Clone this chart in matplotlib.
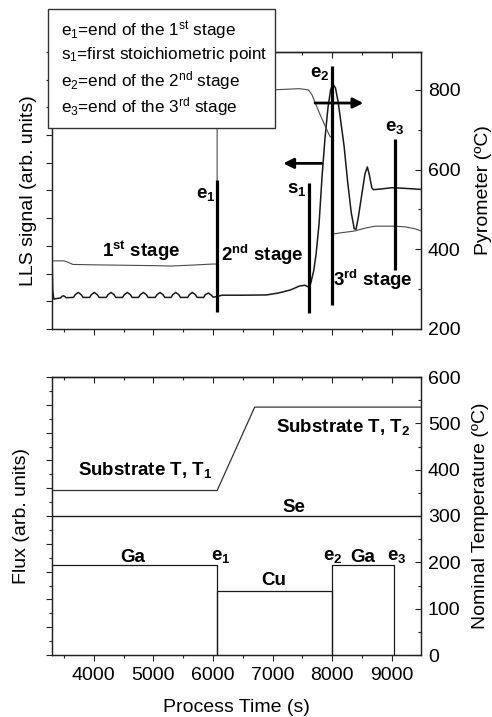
import matplotlib
matplotlib.use('Agg')
import matplotlib.pyplot as plt
from matplotlib.patches import Rectangle
from matplotlib.ticker import MultipleLocator

plt.rcParams['font.family'] = ['Liberation Sans', 'DejaVu Sans']
plt.rcParams['mathtext.fontset'] = 'custom'
plt.rcParams['mathtext.rm'] = 'Liberation Sans'
plt.rcParams['mathtext.it'] = 'Liberation Sans:italic'
plt.rcParams['mathtext.bf'] = 'Liberation Sans:bold'
plt.rcParams['mathtext.default'] = 'rm'

# ---------------- data ----------------
# LLS signal (arb. units, left axis of top panel)
lls_time = [3300, 3312, 3330, 3380, 3440, 3470, 3490, 3510, 3540,
            3660, 3690, 3741, 3790, 3820,
            3930, 3960, 4010, 4060, 4090,
            4210, 4240, 4290, 4340, 4370,
            4484, 4514, 4564, 4614, 4644,
            4752, 4782, 4832, 4882, 4912,
            5032, 5062, 5112, 5162, 5192,
            5296, 5326, 5376, 5426, 5456,
            5575, 5605, 5655, 5705, 5735,
            5843, 5873, 5923, 5973, 6003,
            6070, 6150, 6500, 6900, 7100, 7300, 7450, 7540, 7600,
            7640, 7690, 7730, 7780, 7830, 7880, 7930, 7975, 8014,
            8055, 8100, 8150, 8200, 8260, 8320, 8370, 8400, 8440,
            8500, 8550, 8590, 8625, 8665, 8690, 8800, 9000, 9200, 9490]
lls_value = [2.75, 1.40, 1.08, 1.10, 1.12, 1.18, 1.20, 1.18, 1.13,
             1.14, 1.24, 1.32, 1.24, 1.14,
             1.14, 1.24, 1.32, 1.24, 1.14,
             1.14, 1.24, 1.32, 1.24, 1.14,
             1.14, 1.24, 1.32, 1.24, 1.14,
             1.14, 1.24, 1.32, 1.24, 1.14,
             1.14, 1.24, 1.32, 1.24, 1.14,
             1.14, 1.24, 1.32, 1.24, 1.14,
             1.14, 1.24, 1.32, 1.24, 1.14,
             1.14, 1.24, 1.30, 1.22, 1.15,
             1.17, 1.22, 1.22, 1.23, 1.30, 1.41, 1.55, 1.58, 1.52,
             1.65, 2.10, 2.70, 3.80, 5.50, 6.90, 8.00, 8.65, 8.84,
             8.70, 8.20, 7.40, 6.60, 5.30, 4.20, 3.62, 3.60, 4.05,
             4.90, 5.60, 5.85, 5.55, 5.10, 5.03, 5.05, 5.10, 5.08, 5.04]

# Pyrometer (ºC, right axis of top panel)
pyro_time = [3300, 3500, 3560, 3650, 4000, 4500, 5000, 5300, 5600, 6000, 6070,
             6070, 7000, 7450, 7600, 7660, 7730, 7800, 7880, 7960, 8000,
             8000, 8130, 8380, 8550, 8720, 9040, 9240, 9400, 9490]
pyro_temp = [371, 371, 368, 362, 361, 360, 359, 358, 360, 363, 363,
             800, 800, 803, 800, 788, 762, 737, 710, 684, 679,
             438, 441, 446, 453, 458, 458, 456, 451, 446]

# stage markers (time, bottom ºC, top ºC)
marker_names = ['e1', 's1', 'e2', 'e3']
marker_time = [6070, 7611, 8000, 9054]
marker_low = [243, 240, 260, 348]
marker_high = [574, 566, 860, 677]

# bottom panel: nominal temperature (ºC)
sub_time = [3300, 6070, 6700, 9490]
sub_temp = [355, 355, 535, 535]

# bottom panel: fluxes (arb. units)
se_time = [3300, 9490]
se_flux = [5.0, 5.0]
ga1_time = [3300, 6070, 6070]
ga1_flux = [3.25, 3.25, 0.0]
cu_time = [6070, 6070, 8000, 8000]
cu_flux = [0.0, 2.30, 2.30, 0.0]
ga2_time = [8000, 8000, 9030, 9030]
ga2_flux = [0.0, 3.25, 3.25, 0.0]

x_min, x_max = 3300, 9490

# ---------------- figure ----------------
W, H = 492, 717
fig = plt.figure(figsize=(W / 100, H / 100), dpi=100)

def frac(l, t, r, b):
    return [l / W, 1 - b / H, (r - l) / W, (b - t) / H]

TICK = 14
LAB = 14
ANN = 13.5
spine_col = '#222222'

def style_axes(ax, axr, left_minor):
    ax.set_xlim(x_min, x_max)
    ax.xaxis.set_major_locator(MultipleLocator(1000))
    ax.xaxis.set_minor_locator(MultipleLocator(500))
    ax.yaxis.set_major_locator(MultipleLocator(1))
    if left_minor:
        ax.yaxis.set_minor_locator(MultipleLocator(0.5))
    ax.tick_params(axis='y', which='both', direction='out', left=True, right=False,
                   labelleft=False, width=0.8, color=spine_col)
    ax.tick_params(axis='y', which='major', length=4)
    ax.tick_params(axis='y', which='minor', length=2.2)
    ax.tick_params(axis='x', which='both', direction='out', bottom=True, top=False,
                   width=0.8, color=spine_col, labelsize=TICK, pad=5)
    ax.tick_params(axis='x', which='major', length=4)
    ax.tick_params(axis='x', which='minor', length=2.5)
    sec = ax.secondary_xaxis('top')
    sec.xaxis.set_major_locator(MultipleLocator(1000))
    sec.xaxis.set_minor_locator(MultipleLocator(500))
    sec.tick_params(axis='x', which='both', direction='in', labeltop=False,
                    width=0.8, color=spine_col)
    sec.tick_params(axis='x', which='major', length=4)
    sec.tick_params(axis='x', which='minor', length=2.5)
    sec.spines['top'].set_linewidth(0.9)
    sec.spines['top'].set_color(spine_col)
    axr.tick_params(axis='y', which='both', direction='in', right=True,
                    labelsize=TICK, width=0.8, color=spine_col, pad=5)
    axr.tick_params(axis='y', which='major', length=4.5)
    axr.tick_params(axis='y', which='minor', length=2.5)
    for a in (ax, axr):
        for s in a.spines.values():
            s.set_linewidth(0.9)
            s.set_color(spine_col)

# ---------- top panel ----------
ax1 = fig.add_axes(frac(52, 52, 421, 329))
ax1r = ax1.twinx()
ax1.set_ylim(0, 10)
ax1r.set_ylim(200, 895)
ax1r.yaxis.set_major_locator(MultipleLocator(200))
ax1r.yaxis.set_minor_locator(MultipleLocator(100))
style_axes(ax1, ax1r, left_minor=False)
ax1.tick_params(axis='x', labelbottom=False)

ax1.plot(lls_time, lls_value, color='#1a1a1a', lw=1.1, zorder=3)
ax1r.plot(pyro_time, pyro_temp, color='#4a4a4a', lw=0.8, zorder=2)
for t, lo, hi in zip(marker_time, marker_low, marker_high):
    ax1r.plot([t, t], [lo, hi], color='black', lw=2.3, solid_capstyle='butt', zorder=4)

ax1.set_ylabel('LLS signal (arb. units)', fontsize=LAB, labelpad=7)
ax1r.set_ylabel('Pyrometer (ºC)', fontsize=LAB, labelpad=10)

# arrows
ax1.annotate('', xy=(7180, 5.98), xytext=(7824, 5.98),
             arrowprops=dict(arrowstyle='-|>,head_length=0.6,head_width=0.3',
                             lw=2.0, color='black', shrinkA=0, shrinkB=0,
                             mutation_scale=10))
ax1r.annotate('', xy=(8522, 767), xytext=(7712, 767),
              arrowprops=dict(arrowstyle='-|>,head_length=0.6,head_width=0.3',
                              lw=2.0, color='black', shrinkA=0, shrinkB=0,
                              mutation_scale=10), zorder=5)

bold = dict(fontsize=ANN, fontweight='bold', ha='center', va='baseline')
ax1r.text(4793, 381, r'1$^{\mathbf{st}}$ stage', **bold)
ax1r.text(6823, 371, r'2$^{\mathbf{nd}}$ stage', **bold)
ax1r.text(8690, 308, r'3$^{\mathbf{rd}}$ stage', **bold)
ax1r.text(5884, 528, r'e$_{\mathbf{1}}$', **bold)
ax1r.text(7410, 541, r's$_{\mathbf{1}}$', **bold)
ax1r.text(7796, 832, r'e$_{\mathbf{2}}$', **bold)
ax1r.text(9054, 697, r'e$_{\mathbf{3}}$', **bold)

# legend-like box
fig.patches.append(Rectangle((48 / W, 1 - 128 / H), 227 / W, 119 / H,
                             transform=fig.transFigure, facecolor='white',
                             edgecolor='#333333', lw=1.0, zorder=5))
box_lines = [r'e$_1$=end of the 1$^{st}$ stage',
             r's$_1$=first stoichiometric point',
             r'e$_2$=end of the 2$^{nd}$ stage',
             r'e$_3$=end of the 3$^{rd}$ stage']
box_baselines = [36, 59.5, 86, 112.5]
for txt, yb in zip(box_lines, box_baselines):
    fig.text(61 / W, 1 - yb / H, txt, fontsize=12.3, ha='left', va='baseline',
             zorder=6)

# ---------- bottom panel ----------
ax2 = fig.add_axes(frac(52, 377, 421, 655))
ax2r = ax2.twinx()
ax2.set_ylim(0, 10)
ax2r.set_ylim(0, 600)
ax2r.yaxis.set_major_locator(MultipleLocator(100))
ax2r.yaxis.set_minor_locator(MultipleLocator(50))
style_axes(ax2, ax2r, left_minor=True)

lc = '#1a1a1a'
ax2r.plot(sub_time, sub_temp, color='#333333', lw=0.9)
ax2.plot(se_time, se_flux, color=lc, lw=1.0)
ax2.plot(ga1_time, ga1_flux, color=lc, lw=0.9)
ax2.plot(cu_time, cu_flux, color=lc, lw=0.9)
ax2.plot(ga2_time, ga2_flux, color=lc, lw=0.9)

ax2.set_ylabel('Flux (arb. units)', fontsize=LAB, labelpad=12)
ax2r.set_ylabel('Nominal Temperature (ºC)', fontsize=LAB, labelpad=8)
ax2.set_xlabel('Process Time (s)', fontsize=LAB, labelpad=10.5)

ax2r.text(4860, 388, r'Substrate T, T$_{\mathbf{1}}$', **bold)
ax2r.text(8187, 482, r'Substrate T, T$_{\mathbf{2}}$', **bold)
ax2r.text(7357, 308, 'Se', **bold)
ax2r.text(4650, 201, 'Ga', **bold)
ax2r.text(6135, 205, r'e$_{\mathbf{1}}$', **bold)
ax2r.text(7012, 151, 'Cu', **bold)
ax2r.text(8014, 205, r'e$_{\mathbf{2}}$', **bold)
ax2r.text(8514, 201, 'Ga', **bold)
ax2r.text(9082, 206, r'e$_{\mathbf{3}}$', **bold)

fig.savefig('out.png', dpi=100)
